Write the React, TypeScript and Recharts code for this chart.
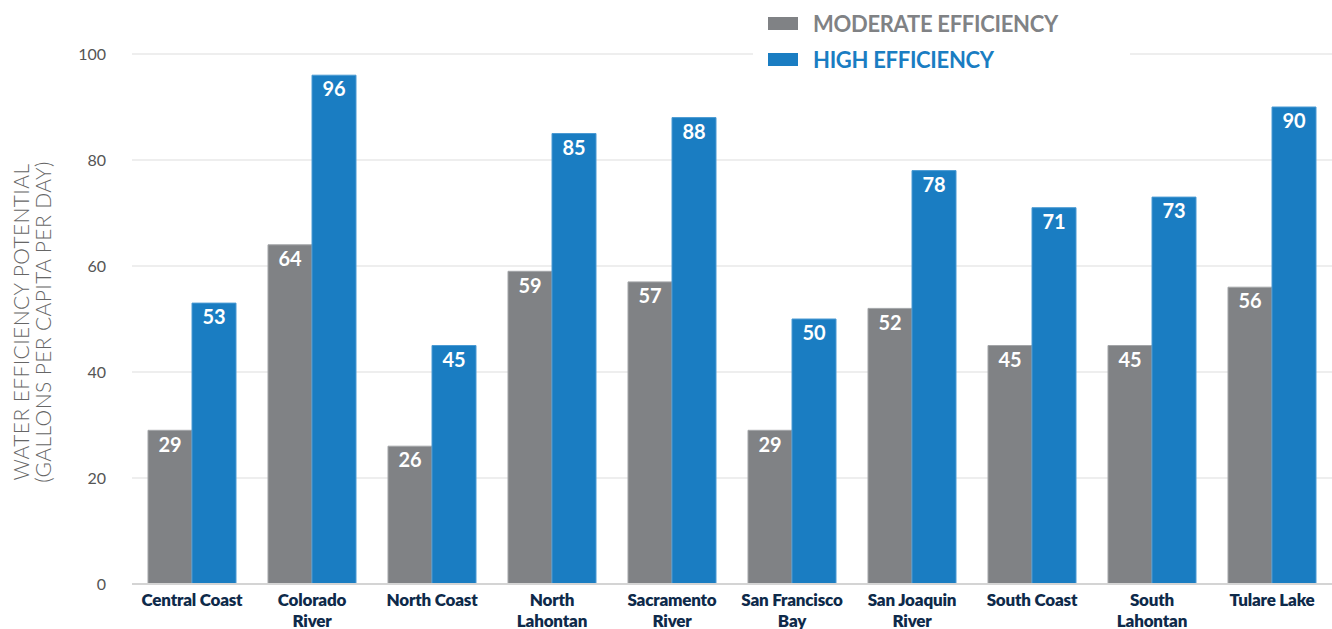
import React from "react";
import {
  BarChart,
  Bar,
  XAxis,
  YAxis,
  CartesianGrid,
  LabelList,
} from "recharts";

// Hydrologic regions and their per-capita water savings potential
const regions: string[] = [
  "Central Coast",
  "Colorado River",
  "North Coast",
  "North Lahontan",
  "Sacramento River",
  "San Francisco Bay",
  "San Joaquin River",
  "South Coast",
  "South Lahontan",
  "Tulare Lake",
];

// Line breaks used for the category labels
const regionLines: string[][] = [
  ["Central Coast"],
  ["Colorado", "River"],
  ["North Coast"],
  ["North", "Lahontan"],
  ["Sacramento", "River"],
  ["San Francisco", "Bay"],
  ["San Joaquin", "River"],
  ["South Coast"],
  ["South", "Lahontan"],
  ["Tulare Lake"],
];

const moderateEfficiency: number[] = [29, 64, 26, 59, 57, 29, 52, 45, 45, 56];
const highEfficiency: number[] = [53, 96, 45, 85, 88, 50, 78, 71, 73, 90];

const yTicks: number[] = [0, 20, 40, 60, 80, 100];

const GRAY = "#808285";
const BLUE = "#1a7dc2";
const NAVY = "#0e2a4a";
const FONT = "'Lato', 'Open Sans', sans-serif";

const data = regions.map((region, i) => ({
  region,
  moderate: moderateEfficiency[i],
  high: highEfficiency[i],
}));

const RegionTick = (props: any) => {
  const { x, y, payload, index } = props;
  const lines = regionLines[index] ?? [payload.value];
  return (
    <text
      x={x}
      y={y}
      textAnchor="middle"
      fill={NAVY}
      fontFamily={FONT}
      fontWeight={800}
      fontSize={17}
      letterSpacing={-0.2}
    >
      {lines.map((line: string, i: number) => (
        <tspan key={i} x={x} dy={i === 0 ? 14 : 21}>
          {line}
        </tspan>
      ))}
    </text>
  );
};

const legendItems = [
  { label: "MODERATE EFFICIENCY", color: GRAY },
  { label: "HIGH EFFICIENCY", color: BLUE },
];

const LegendBox = () => (
  <div
    style={{
      position: "absolute",
      left: 753,
      top: 5,
      background: "#fff",
      width: 377,
      height: 64,
      boxSizing: "border-box",
      paddingLeft: 15,
      paddingTop: 3,
      fontFamily: FONT,
      fontSize: 22,
      fontWeight: 700,
      letterSpacing: -0.3,
    }}
  >
    {legendItems.map((item, i) => (
      <div
        key={item.label}
        style={{
          display: "flex",
          alignItems: "center",
          height: 30,
          marginTop: i === 0 ? 0 : 6,
          color: item.color,
        }}
      >
        <span style={{ width: 30, height: 13, background: item.color, marginRight: 15 }} />
        {item.label}
      </div>
    ))}
  </div>
);

export default function App() {
  return (
    <div
      style={{
        position: "absolute",
        left: 0,
        top: 0,
        width: 1332,
        height: 629,
        background: "#fff",
      }}
    >
      <BarChart
        width={1332}
        height={629}
        data={data}
        margin={{ top: 54, right: 0, bottom: 0, left: 0 }}
        barCategoryGap={16}
        barGap={0}
      >
        <CartesianGrid vertical={false} stroke="#dedede" strokeWidth={1.2} />
        <XAxis
          dataKey="region"
          interval={0}
          height={45}
          tickLine={false}
          axisLine={{ stroke: "#d4d4d4", strokeWidth: 2 }}
          tick={<RegionTick />}
        />
        <YAxis
          width={132}
          domain={[0, 100]}
          ticks={yTicks}
          tickLine={false}
          axisLine={false}
          tickMargin={20}
          tick={{ fill: "#555", fontSize: 16, fontFamily: FONT }}
        />
        <Bar
          dataKey="moderate"
          name="MODERATE EFFICIENCY"
          fill={GRAY}
          stroke="#a3a5a8"
          strokeWidth={1}
          isAnimationActive={false}
        >
          <LabelList
            dataKey="moderate"
            position="insideTop"
            offset={7}
            fill="#fff"
            fontSize={20}
            fontWeight={700}
            fontFamily={FONT}
          />
        </Bar>
        <Bar
          dataKey="high"
          name="HIGH EFFICIENCY"
          fill={BLUE}
          stroke="#4b9ad3"
          strokeWidth={1}
          isAnimationActive={false}
        >
          <LabelList
            dataKey="high"
            position="insideTop"
            offset={7}
            fill="#fff"
            fontSize={20}
            fontWeight={700}
            fontFamily={FONT}
          />
        </Bar>
      </BarChart>
      <LegendBox />
      <svg
        width={70}
        height={629}
        style={{ position: "absolute", left: 0, top: 0, pointerEvents: "none" }}
      >
        <text
          transform="translate(32, 322) rotate(-90)"
          textAnchor="middle"
          fill="#666"
          fontFamily={FONT}
          fontWeight={300}
          fontSize={21}
          letterSpacing={0.4}
        >
          <tspan x={0} dy={-3}>WATER EFFICIENCY POTENTIAL</tspan>
          <tspan x={0} dy={22}>(GALLONS PER CAPITA PER DAY)</tspan>
        </text>
      </svg>
    </div>
  );
}
